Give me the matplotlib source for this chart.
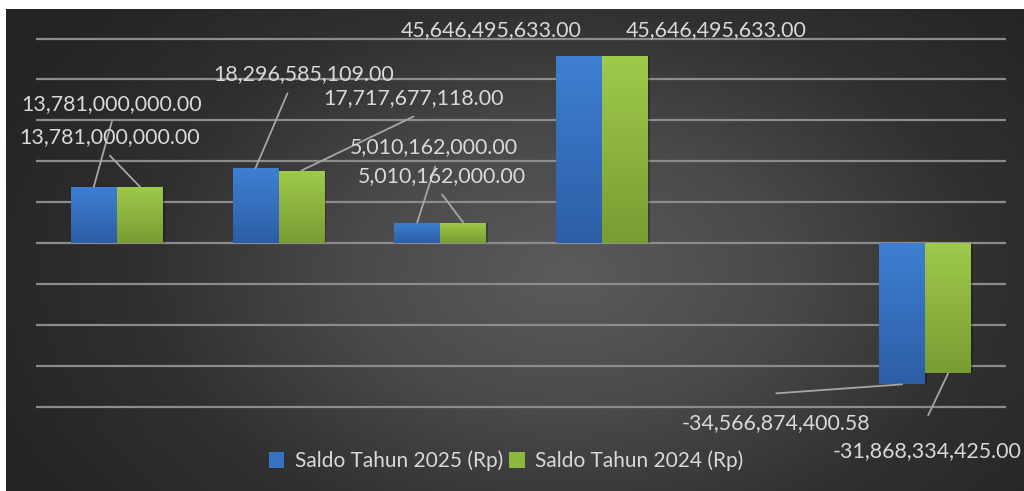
import numpy as np
import matplotlib
matplotlib.use("Agg")
import matplotlib.pyplot as plt
from matplotlib.colors import LinearSegmentedColormap
from matplotlib.patches import Patch

# ---- data ----
categories = ["1", "2", "3", "4", "5", "6"]
series_names = ["Saldo Tahun 2025 (Rp)", "Saldo Tahun 2024 (Rp)"]
saldo_2025 = [13781000000.00, 18296585109.00, 5010162000.00, 45646495633.00, np.nan, -34566874400.58]
saldo_2024 = [13781000000.00, 17717677118.00, 5010162000.00, 45646495633.00, np.nan, -31868334425.00]
label_2025 = ["13,781,000,000.00", "18,296,585,109.00", "5,010,162,000.00", "45,646,495,633.00", "", "-34,566,874,400.58"]
label_2024 = ["13,781,000,000.00", "17,717,677,118.00", "5,010,162,000.00", "45,646,495,633.00", "", "-31,868,334,425.00"]

# ---- styling / layout ----
W, H = 1024, 491
FONT = "Lato"
TXT = "#D9D9D9"
LEAD = "#A6A6A6"
GRID = "#8C8C8C"

# label offsets in pixels relative to bar top: (text dx, dy, line end dx, dy or None)
off_2025 = [(18, 83, 18, 65), (48, 94, 32, 75), (17, 75, 18, 56), (-88, 26, None, None), None, (-126, -39, -126, -9)]
off_2024 = [(-30, 50, -30, 31), (112, 72, 112, 54), (-21, 46, -21, 28), (91, 26, None, None), None, (-21, -78, -20, -42)]

fig = plt.figure(figsize=(W / 100, H / 100), dpi=100)
fig.patch.set_facecolor("white")

# background radial gradient
bg = fig.add_axes([6 / W, 0, (W - 6) / W, (H - 9) / H])
bg.set_axis_off()
yy, xx = np.mgrid[0:1:300j, 0:1:600j]
r = np.sqrt(((xx - 0.55) / 0.62) ** 2 + ((yy - 0.55) / 0.85) ** 2)
r = np.clip(r, 0, 1)
bgcmap = LinearSegmentedColormap.from_list("bg", ["#5B5B5B", "#4A4A4A", "#303030", "#242424"])
bg.imshow(r, cmap=bgcmap, aspect="auto", extent=[0, 1, 0, 1], origin="upper", vmin=0, vmax=1)
bg.set_xlim(0, 1)
bg.set_ylim(0, 1)

# main axes
px_per_unit = 40.89 / 10e9
zero_y = 243
top_px, bot_px = 30, 420
ax = fig.add_axes([36 / W, (H - bot_px) / H, 970 / W, (bot_px - top_px) / H])
ax.set_facecolor("none")
ylo = -(bot_px - zero_y) / px_per_unit
yhi = (zero_y - top_px) / px_per_unit
x = np.arange(len(categories))
bw = 46 / 161.67

ax.set_yticks(np.arange(-40e9, 50e9 + 1, 10e9))
ax.yaxis.grid(True, color=GRID, linewidth=1.6, zorder=0)
ax.set_axisbelow(True)
ax.tick_params(length=0, labelleft=False, labelbottom=False)
ax.set_xticks([])
for s in ax.spines.values():
    s.set_visible(False)

blue_cmap = LinearSegmentedColormap.from_list("b", ["#3E7FD2", "#2D5EA6"])
green_cmap = LinearSegmentedColormap.from_list("g", ["#9FCA4B", "#799C33"])

def draw(xs, vals, color, cmap):
    # shadow
    ax.bar(xs + 0.012, vals, bw, bottom=0, color="black", alpha=0.25, zorder=2, linewidth=0)
    bars = ax.bar(xs, vals, bw, color=color, zorder=3, linewidth=0)
    grad = np.linspace(0, 1, 100).reshape(-1, 1)
    for rect in bars:
        h = rect.get_height()
        if not np.isfinite(h):
            continue
        x0 = rect.get_x()
        y0 = rect.get_y()
        y1 = y0 + h
        im = ax.imshow(grad, cmap=cmap, aspect="auto", origin="upper",
                       extent=[x0, x0 + rect.get_width(), min(y0, y1), max(y0, y1)], zorder=4)
        im.set_clip_path(rect)
    return bars

b1 = draw(x - bw / 2, saldo_2025, "#3470C0", blue_cmap)
b2 = draw(x + bw / 2, saldo_2024, "#8DB640", green_cmap)

ax.set_xlim(-0.5, len(categories) - 0.5)
ax.set_ylim(ylo, yhi)

def labels(xs, vals, texts, offs):
    for xi, v, t, o in zip(xs, vals, texts, offs):
        if o is None or not np.isfinite(v):
            continue
        tdx, tdy, ldx, ldy = o
        if ldx is not None:
            ax.annotate("", xy=(xi, v), xytext=(ldx, ldy), textcoords="offset pixels",
                        arrowprops=dict(arrowstyle="-", color=LEAD, lw=1.3, shrinkA=0, shrinkB=0),
                        zorder=5, annotation_clip=False)
        ax.annotate(t, xy=(xi, v), xytext=(tdx, tdy), textcoords="offset pixels",
                    ha="center", va="center", color=TXT, fontsize=15.4, family=FONT,
                    zorder=6, annotation_clip=False)

labels(x - bw / 2, saldo_2025, label_2025, off_2025)
labels(x + bw / 2, saldo_2024, label_2024, off_2024)

handles = [Patch(facecolor="#3671C2", edgecolor="none"), Patch(facecolor="#8DB83E", edgecolor="none")]
leg = fig.legend(handles, series_names, loc="center", bbox_to_anchor=(506 / W, 1 - 461 / H),
                 ncol=2, frameon=False, handlelength=0.75, handleheight=0.75,
                 handletextpad=0.5, columnspacing=0.3, prop={"family": FONT, "size": 15})
for t in leg.get_texts():
    t.set_color(TXT)

fig.savefig("out.png", dpi=100, facecolor=fig.get_facecolor())
